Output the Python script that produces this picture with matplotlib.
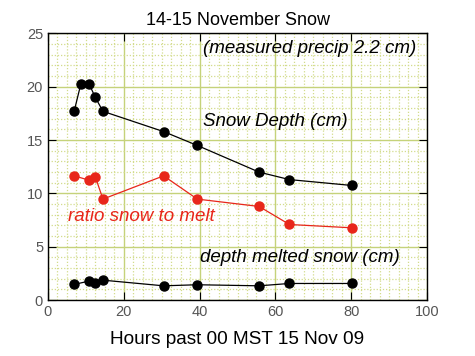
import matplotlib
matplotlib.use("Agg")
import matplotlib.pyplot as plt
from matplotlib.ticker import MultipleLocator

plt.rcParams["font.family"] = ["Liberation Sans", "DejaVu Sans"]

# snow depth, measured at these hours
hours = [6.9, 8.7, 10.8, 12.5, 14.5, 30.5, 39.4, 55.7, 63.7, 80.1]
depth = [17.7, 20.3, 20.3, 19.0, 17.7, 15.8, 14.5, 12.0, 11.3, 10.75]

# ratio and melted depth (no sample at 8.7 h)
hours2 = [6.9, 10.8, 12.5, 14.5, 30.5, 39.4, 55.7, 63.7, 80.1]
ratio = [11.65, 11.25, 11.55, 9.47, 11.65, 9.47, 8.78, 7.09, 6.78]
melted = [1.47, 1.78, 1.56, 1.87, 1.34, 1.44, 1.34, 1.56, 1.56]

fig = plt.figure(figsize=(4.75, 3.56), dpi=100)
ax = fig.add_axes([0.101, 0.157, 0.798, 0.749])

red = "#e8261a"
ax.plot(hours, depth, color="black", lw=0.9, marker="o", ms=6.5)
ax.plot(hours2, ratio, color=red, lw=0.9, marker="o", ms=6.5)
ax.plot(hours2, melted, color="black", lw=0.9, marker="o", ms=6.5)

ax.set_xlim(0, 100)
ax.set_ylim(0, 25)
ax.xaxis.set_major_locator(MultipleLocator(20))
ax.xaxis.set_minor_locator(MultipleLocator(2.5))
ax.yaxis.set_major_locator(MultipleLocator(5))
ax.yaxis.set_minor_locator(MultipleLocator(1))

ax.grid(True, which="major", color="#c5d27a", lw=1.0)
ax.grid(True, which="minor", color="#d3dc8c", lw=0.9, ls=(0, (1, 1.5)))
ax.set_axisbelow(True)

ax.tick_params(which="major", direction="in", length=6, top=True, right=True,
               labelsize=10.5, labelcolor="#555555", width=0.8)
ax.tick_params(which="minor", length=0)
for s in ax.spines.values():
    s.set_linewidth(1.0)

ax.set_title("14-15 November Snow", fontsize=13, pad=6)
ax.set_xlabel("Hours past 00 MST 15 Nov 09", fontsize=13.7, labelpad=9)

ax.text(40.9, 23.6, "(measured precip 2.2 cm)", style="italic", fontsize=13.5, va="center")
ax.text(40.9, 16.7, "Snow Depth (cm)", style="italic", fontsize=13.5, va="center")
ax.text(5.4, 7.8, "ratio snow to melt", style="italic", fontsize=13.5, va="center", color=red)
ax.text(40.1, 4.0, "depth melted snow (cm)", style="italic", fontsize=13.5, va="center")

fig.savefig("out.png", dpi=100)
